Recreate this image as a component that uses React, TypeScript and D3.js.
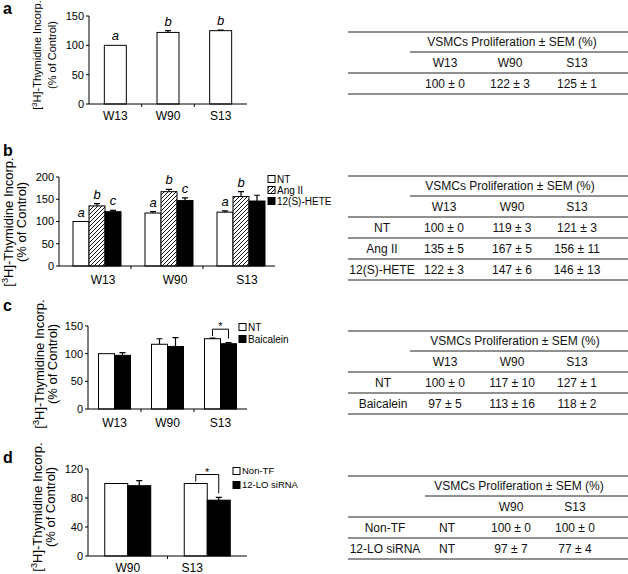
import React from "react";
import * as d3 from "d3";

const FONT = "'Liberation Sans', Arial, Helvetica, sans-serif";

// ---------- Panel a ----------
const catsA = ["W13", "W90", "S13"];
const aMean = [100, 122, 125];
const aSem = [0, 3, 1];
const aLetters = ["a", "b", "b"];
const aTicks = [0, 50, 100, 150];

// ---------- Panel b ----------
const catsB = ["W13", "W90", "S13"];
const seriesB = ["NT", "Ang II", "12(S)-HETE"];
const bNT = [100, 119, 121];
const bNTSem = [0, 3, 3];
const bAng = [135, 167, 156];
const bAngSem = [5, 5, 11];
const bHete = [122, 147, 146];
const bHeteSem = [3, 6, 13];
const bNTLetters = ["a", "a", "a"];
const bAngLetters = ["b", "b", "b"];
const bHeteLetters = ["c", "c", ""];
const bTicks = [0, 50, 100, 150, 200];

// ---------- Panel c ----------
const catsC = ["W13", "W90", "S13"];
const seriesC = ["NT", "Baicalein"];
const cNT = [100, 117, 127];
const cNTSem = [0, 10, 1];
const cBai = [97, 113, 118];
const cBaiSem = [5, 16, 2];
const cTicks = [0, 50, 100, 150];

// ---------- Panel d ----------
const catsD = ["W90", "S13"];
const seriesD = ["Non-TF", "12-LO siRNA"];
const dNon = [100, 100];
const dNonSem = [0, 0];
const dSi = [97, 77];
const dSiSem = [7, 4];
const dTicks = [0, 40, 80, 120];
const dTreatment = ["NT", "NT"];

const tableTitle = "VSMCs Proliferation \u00b1 SEM (%)";
const yLab1 = "-Thymidine Incorp.";
const yLab2 = "(% of Control)";

type Series = { name: string; mean: number[]; sem: number[]; fill: string; letters?: string[] };

type PanelCfg = {
  tag: string;
  tagY: number;
  cats: string[];
  series: Series[];
  yMax: number;
  ticks: number[];
  x0: number;
  x1: number;
  y0: number;
  yTop: number;
  barW: number;
  groupOffset?: number;
  catDx?: number[];
  catDy: number;
  legend?: { x: number; y: number; dy: number; fs: number };
  ylab: { cy: number; b1: number; b2: number; fs: number };
  bracket?: { cat: number };
};

const fmt = (m: number, s: number) => `${m} \u00b1 ${s}`;

function BarPanel({ cfg }: { cfg: PanelCfg }) {
  const y = d3.scaleLinear().domain([0, cfg.yMax]).range([cfg.y0, cfg.yTop]);
  const x = d3.scaleBand<string>().domain(cfg.cats).range([cfg.x0, cfg.x1]);
  const bw = x.bandwidth();
  const n = cfg.series.length;
  const groupStart = (c: string) =>
    (x(c) as number) + (cfg.groupOffset !== undefined ? cfg.groupOffset : (bw - n * cfg.barW) / 2);
  const barX = (c: string, j: number) => groupStart(c) + j * cfg.barW;
  const capW = 6;
  const { ylab } = cfg;

  let bracketEl = null;
  if (cfg.bracket) {
    const ci = cfg.bracket.cat;
    const c = cfg.cats[ci];
    const tops = cfg.series.map((s) => s.mean[ci] + s.sem[ci]);
    const top = y(Math.max(...tops)) - 9;
    const xs = cfg.series.map((s, j) => barX(c, j) + cfg.barW / 2);
    const l = xs[0];
    const r = xs[xs.length - 1];
    bracketEl = (
      <g>
        <path
          d={`M${l},${y(tops[0]) - 2}V${top}H${r}V${y(tops[tops.length - 1]) - 4}`}
          fill="none"
          stroke="#000"
          strokeWidth={1}
        />
        <text x={(l + r) / 2} y={top + 1} fontSize={11} textAnchor="middle">
          *
        </text>
      </g>
    );
  }

  return (
    <g fontFamily={FONT} fill="#000">
      <text x={3} y={cfg.tagY} fontSize={16} fontWeight="bold">
        {cfg.tag}
      </text>
      {/* y label */}
      <g transform={`translate(${ylab.b1},${ylab.cy}) rotate(-90)`}>
        <text textAnchor="middle" fontSize={ylab.fs}>
          [<tspan fontSize={ylab.fs * 0.7} dy={-ylab.fs * 0.35}>3</tspan>
          <tspan dy={ylab.fs * 0.35}>H]{yLab1}</tspan>
        </text>
      </g>
      <g transform={`translate(${ylab.b2},${ylab.cy}) rotate(-90)`}>
        <text textAnchor="middle" fontSize={ylab.fs}>
          {yLab2}
        </text>
      </g>
      {/* bars */}
      {cfg.cats.map((c, i) =>
        cfg.series.map((s, j) => {
          const bx = barX(c, j);
          const cx = bx + cfg.barW / 2;
          const yt = y(s.mean[i]);
          const ye = y(s.mean[i] + s.sem[i]);
          return (
            <g key={`${c}-${j}`}>
              <rect x={bx} y={yt} width={cfg.barW} height={cfg.y0 - yt} fill={s.fill} stroke="#000" strokeWidth={1} />
              {s.sem[i] > 0 && (
                <path d={`M${cx},${yt}V${ye}M${cx - capW / 2},${ye}H${cx + capW / 2}`} stroke="#000" strokeWidth={1.2} />
              )}
              {s.letters && s.letters[i] && (
                <text x={cx} y={ye - 5} fontSize={13} fontStyle="italic" textAnchor="middle">
                  {s.letters[i]}
                </text>
              )}
            </g>
          );
        })
      )}
      {bracketEl}
      {/* y axis */}
      <line x1={cfg.x0} x2={cfg.x0} y1={cfg.y0} y2={cfg.yTop} stroke="#000" strokeWidth={1} />
      {cfg.ticks.map((t) => (
        <g key={t}>
          <line x1={cfg.x0 - 3} x2={cfg.x0} y1={y(t)} y2={y(t)} stroke="#000" />
          <text x={cfg.x0 - 5} y={y(t)} dy="0.36em" fontSize={11} textAnchor="end">
            {t}
          </text>
        </g>
      ))}
      {/* x axis */}
      <line x1={cfg.x0} x2={cfg.x1} y1={cfg.y0} y2={cfg.y0} stroke="#000" strokeWidth={1} />
      {cfg.cats.slice(1).map((c) => (
        <line key={c} x1={x(c)} x2={x(c)} y1={cfg.y0} y2={cfg.y0 + 3} stroke="#000" />
      ))}
      {cfg.cats.map((c, i) => (
        <text
          key={c}
          x={(x(c) as number) + bw / 2 + (cfg.catDx ? cfg.catDx[i] : 0)}
          y={cfg.y0 + cfg.catDy}
          fontSize={12}
          textAnchor="middle"
        >
          {c}
        </text>
      ))}
      {/* legend */}
      {cfg.legend &&
        cfg.series.map((s, j) => {
          const lg = cfg.legend!;
          const cy = lg.y + j * lg.dy;
          return (
            <g key={s.name}>
              <rect x={lg.x} y={cy - 3.5} width={7} height={7} fill={s.fill} stroke="#000" strokeWidth={1} />
              <text x={lg.x + 9} y={cy} dy="0.36em" fontSize={lg.fs}>
                {s.name}
              </text>
            </g>
          );
        })}
    </g>
  );
}

type TableCfg = {
  top: number;
  titleX: number;
  ruleX: number;
  cols: number[];
  colHeads: string[];
  rowLabelX: number;
  rows: string[][];
};

function Table({ cfg }: { cfg: TableCfg }) {
  const L = 348;
  const R = 628;
  const rH = 21;
  const r1 = cfg.top + 20;
  const r2 = r1 + rH;
  const rules = [cfg.top, r2];
  cfg.rows.forEach((_, i) => rules.push(r2 + (i + 1) * rH));
  return (
    <g fontFamily={FONT} fill="#111" fontSize={12}>
      {rules.map((ry, i) => (
        <line key={i} x1={L} x2={R} y1={ry} y2={ry} stroke="#222" strokeWidth={1} />
      ))}
      <line x1={cfg.ruleX} x2={R} y1={r1} y2={r1} stroke="#222" strokeWidth={1} />
      <text x={cfg.titleX} y={(cfg.top + r1) / 2} dy="0.36em" textAnchor="middle">
        {tableTitle}
      </text>
      {cfg.colHeads.map((h, i) => (
        <text key={i} x={cfg.cols[i]} y={(r1 + r2) / 2} dy="0.36em" textAnchor="middle">
          {h}
        </text>
      ))}
      {cfg.rows.map((row, i) => {
        const cy = r2 + i * rH + rH / 2;
        return (
          <g key={i}>
            {row.map((cell, k) => (
              <text
                key={k}
                x={k === 0 ? cfg.rowLabelX : cfg.cols[k - 1]}
                y={cy}
                dy="0.36em"
                textAnchor="middle"
              >
                {cell}
              </text>
            ))}
          </g>
        );
      })}
    </g>
  );
}

export default function App() {
  const panelA: PanelCfg = {
    tag: "a",
    tagY: 14,
    cats: catsA,
    series: [{ name: "Control", mean: aMean, sem: aSem, fill: "#fff", letters: aLetters }],
    yMax: 150,
    ticks: aTicks,
    x0: 89,
    x1: 247,
    y0: 104,
    yTop: 16,
    barW: 22,
    catDy: 16,
    ylab: { cy: 55, b1: 41, b2: 56, fs: 11 },
  };
  const panelB: PanelCfg = {
    tag: "b",
    tagY: 156,
    cats: catsB,
    series: [
      { name: seriesB[0], mean: bNT, sem: bNTSem, fill: "#fff", letters: bNTLetters },
      { name: seriesB[1], mean: bAng, sem: bAngSem, fill: "url(#hatch)", letters: bAngLetters },
      { name: seriesB[2], mean: bHete, sem: bHeteSem, fill: "#000", letters: bHeteLetters },
    ],
    yMax: 200,
    ticks: bTicks,
    x0: 59,
    x1: 275,
    y0: 266,
    yTop: 177,
    barW: 16,
    groupOffset: 14,
    catDx: [8, 8, 8],
    catDy: 18,
    legend: { x: 268, y: 179, dy: 11, fs: 10 },
    ylab: { cy: 222, b1: 13, b2: 26, fs: 13 },
  };
  const panelC: PanelCfg = {
    tag: "c",
    tagY: 311,
    cats: catsC,
    series: [
      { name: seriesC[0], mean: cNT, sem: cNTSem, fill: "#fff" },
      { name: seriesC[1], mean: cBai, sem: cBaiSem, fill: "#000" },
    ],
    yMax: 150,
    ticks: cTicks,
    x0: 88,
    x1: 247,
    y0: 409,
    yTop: 326,
    barW: 16,
    catDy: 18,
    legend: { x: 239, y: 327, dy: 12, fs: 10 },
    ylab: { cy: 364, b1: 44, b2: 57, fs: 13 },
    bracket: { cat: 2 },
  };
  const panelD: PanelCfg = {
    tag: "d",
    tagY: 463,
    cats: catsD,
    series: [
      { name: seriesD[0], mean: dNon, sem: dNonSem, fill: "#fff" },
      { name: seriesD[1], mean: dSi, sem: dSiSem, fill: "#000" },
    ],
    yMax: 120,
    ticks: dTicks,
    x0: 88,
    x1: 247,
    y0: 556,
    yTop: 469,
    barW: 23,
    catDx: [0, -15],
    catDy: 16,
    legend: { x: 233, y: 471, dy: 14, fs: 9.5 },
    ylab: { cy: 507, b1: 42, b2: 55, fs: 13 },
    bracket: { cat: 1 },
  };

  const tableA: TableCfg = {
    top: 32,
    titleX: 512,
    ruleX: 410,
    cols: [445, 510, 577],
    colHeads: catsA,
    rowLabelX: 383,
    rows: [["", ...aMean.map((m, i) => fmt(m, aSem[i]))]],
  };
  const tableB: TableCfg = {
    top: 176,
    titleX: 510,
    ruleX: 410,
    cols: [444, 512, 577],
    colHeads: catsB,
    rowLabelX: 382,
    rows: [
      [seriesB[0], ...bNT.map((m, i) => fmt(m, bNTSem[i]))],
      [seriesB[1], ...bAng.map((m, i) => fmt(m, bAngSem[i]))],
      [seriesB[2], ...bHete.map((m, i) => fmt(m, bHeteSem[i]))],
    ],
  };
  const tableC: TableCfg = {
    top: 331,
    titleX: 515,
    ruleX: 410,
    cols: [445, 512, 577],
    colHeads: catsC,
    rowLabelX: 383,
    rows: [
      [seriesC[0], ...cNT.map((m, i) => fmt(m, cNTSem[i]))],
      [seriesC[1], ...cBai.map((m, i) => fmt(m, cBaiSem[i]))],
    ],
  };
  const tableD: TableCfg = {
    top: 476,
    titleX: 519,
    ruleX: 425,
    cols: [447, 511, 575],
    colHeads: ["", ...catsD],
    rowLabelX: 385,
    rows: [
      [seriesD[0], dTreatment[0], ...dNon.map((m, i) => fmt(m, dNonSem[i]))],
      [seriesD[1], dTreatment[1], ...dSi.map((m, i) => fmt(m, dSiSem[i]))],
    ],
  };

  return (
    <svg
      width={628}
      height={574}
      viewBox="0 0 628 574"
      style={{ position: "absolute", left: 0, top: 0, background: "#fff" }}
    >
      <defs>
        <pattern id="hatch" patternUnits="userSpaceOnUse" width={4} height={4}>
          <rect width={4} height={4} fill="#fff" />
          <path d="M-1,1 l2,-2 M0,4 l4,-4 M3,5 l2,-2" stroke="#000" strokeWidth={0.9} />
        </pattern>
      </defs>
      <rect width={628} height={574} fill="#fff" />
      <BarPanel cfg={panelA} />
      <BarPanel cfg={panelB} />
      <BarPanel cfg={panelC} />
      <BarPanel cfg={panelD} />
      <Table cfg={tableA} />
      <Table cfg={tableB} />
      <Table cfg={tableC} />
      <Table cfg={tableD} />
    </svg>
  );
}
